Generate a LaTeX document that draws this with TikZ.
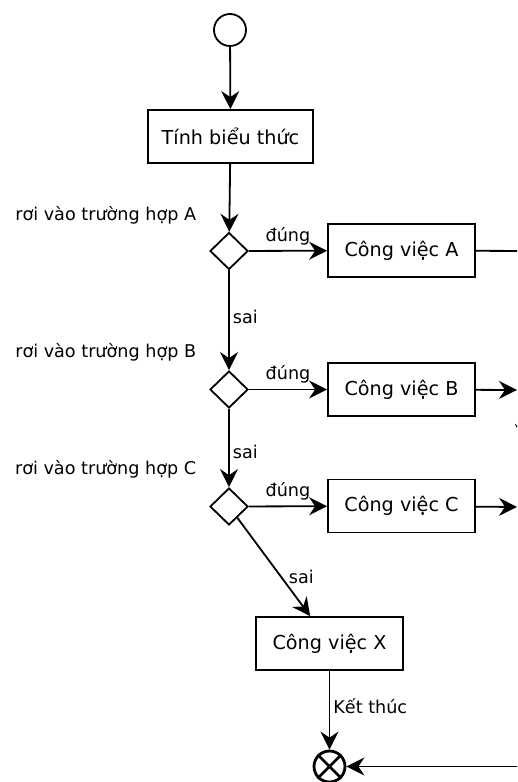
\documentclass[tikz,border=0pt]{standalone}
\usepackage{fontspec}
\setmainfont{DejaVu Sans}
\usetikzlibrary{arrows.meta,shapes.geometric,calc}
\tikzset{arr/.style={-{Stealth[length=18pt,width=18pt,inset=6pt]}}}
\begin{document}
\begin{tikzpicture}[x=1pt,y=-1pt,
  line width=1.8pt,
  box/.style={draw,rectangle,minimum width=147pt,minimum height=53pt,inner sep=0pt,font=\fontsize{19.2}{23}\selectfont},
  dec/.style={draw,diamond,minimum width=38pt,minimum height=37pt,inner sep=0pt},
  lbl/.style={font=\fontsize{17.6}{21}\selectfont,inner sep=0pt}]
\useasboundingbox (0,0) rectangle (517,782);
\clip (0,0) rectangle (517,782);
% nodes
\node[draw,circle,minimum size=32pt,inner sep=0pt] (start) at (230,30) {};
\node[box,minimum width=165pt] (calc) at (230.5,136.5) {Tính biểu thức};
\node[dec] (dA) at (229,251) {};
\node[dec] (dB) at (229,389.5) {};
\node[dec] (dC) at (229,506.5) {};
\node[box] (A) at (401.5,250.5) {Công việc A};
\node[box] (B) at (401.5,389.5) {Công việc B};
\node[box] (C) at (401.5,506) {Công việc C};
\node[box] (X) at (329.5,643.5) {Công việc X};
\node[draw,circle,minimum size=31pt,inner sep=0pt,line width=2.8pt] (end) at (329.5,766.5) {};
\draw[line width=2.8pt] (end.north east) -- (end.south west) (end.north west) -- (end.south east);
% labels
\node[lbl,anchor=east] (lA) at (197,215) {rơi vào trường hợp A};
\node[lbl,anchor=east] (lB) at (197,352) {rơi vào trường hợp B};
\node[lbl,anchor=east] (lC) at (197,469) {rơi vào trường hợp C};
% free ends
\coordinate (rA) at (530,251);
\coordinate (rB) at (517,390);
\coordinate (rC) at (517,507);
\coordinate (vTop) at (524,400);
\coordinate (vTip) at (524,442);
\coordinate (rEnd) at (530,766.5);
% connectors
\draw[arr] (start) -- (calc);
\draw[arr] (calc) -- (dA);
\draw[arr] (dA) -- (A) node[lbl,pos=0.5,above=5pt] {đúng};
\draw[arr] (dA) -- (dB) node[lbl,pos=0.47,right=3pt] {sai};
\draw[arr] (dB) -- (B) node[lbl,pos=0.5,above=5pt] {đúng};
\draw[arr] (dB) -- (dC) node[lbl,pos=0.55,right=3pt] {sai};
\draw[arr] (dC) -- (C) node[lbl,pos=0.5,above=5pt] {đúng};
\draw[arr] (dC) -- ($(X.north west)!0.37!(X.north east)$) node[lbl,pos=0.6,right=7pt] {sai};
\draw[arr] (X) -- (end) node[lbl,pos=0.45,right=3pt] {Kết thúc};
\draw (A) -- (rA);
\draw[arr] (B) -- (rB);
\draw[arr] (C) -- (rC);
\draw[arr] (vTop) -- (vTip);
\draw[arr] (rEnd) -- (end);
\end{tikzpicture}
\end{document}
